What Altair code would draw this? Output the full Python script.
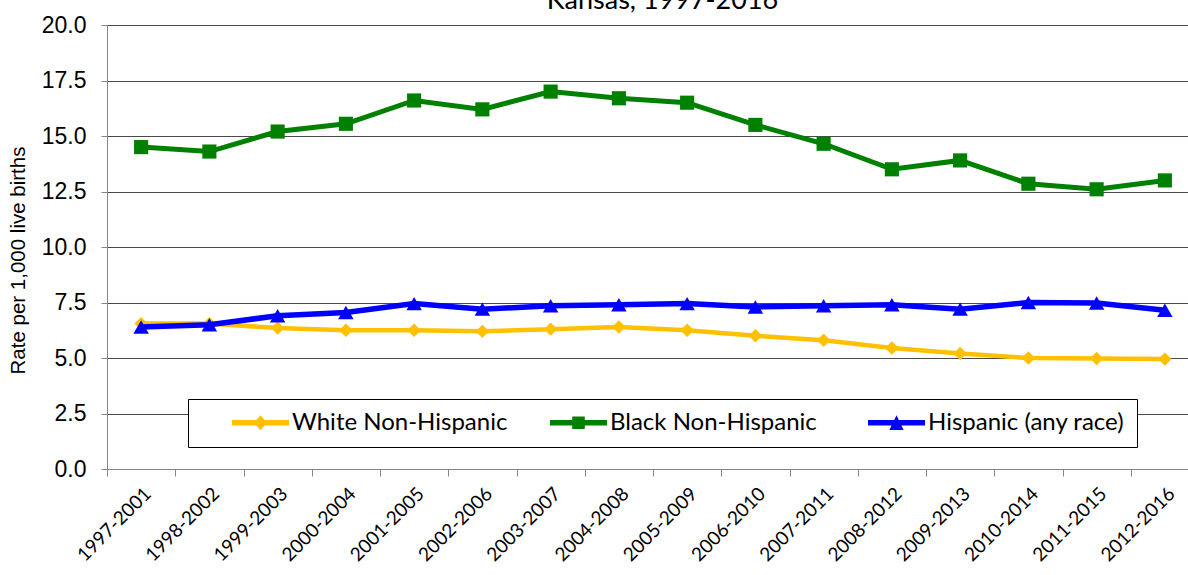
import altair as alt
import pandas as pd

periods = ["1997-2001", "1998-2002", "1999-2003", "2000-2004", "2001-2005", "2002-2006",
           "2003-2007", "2004-2008", "2005-2009", "2006-2010", "2007-2011", "2008-2012",
           "2009-2013", "2010-2014", "2011-2015", "2012-2016"]
white = [6.55, 6.55, 6.35, 6.25, 6.25, 6.2, 6.3, 6.4, 6.25, 6.0, 5.8, 5.45, 5.2, 5.0, 4.98, 4.95]
black = [14.5, 14.3, 15.2, 15.55, 16.6, 16.2, 17.0, 16.7, 16.5, 15.5, 14.65, 13.5, 13.9, 12.85, 12.6, 13.0]
hisp = [6.4, 6.5, 6.9, 7.05, 7.45, 7.2, 7.35, 7.4, 7.45, 7.3, 7.35, 7.4, 7.2, 7.5, 7.48, 7.15]

series_names = ["White Non-Hispanic", "Black Non-Hispanic", "Hispanic (any race)"]
series_vals = [white, black, hisp]
colors = ["#FFC000", "#008000", "#0000FF"]
marker_shapes = ["diamond", "square", "triangle-up"]
marker_sizes = [180, 200, 240]
line_widths = [4.5, 5, 5.5]

rows = []
for name, vals in zip(series_names, series_vals):
    for p, v in zip(periods, vals):
        rows.append({"Period": p, "Rate": v, "Series": name})
df = pd.DataFrame(rows)

bar = "M-1,-0.1H1V0.1H-1Z "
legend_paths = [
    bar + "M0,-0.26L0.23,0L0,0.26L-0.23,0Z",
    bar + "M-0.22,-0.22H0.22V0.22H-0.22Z",
    bar + "M0,-0.26L0.25,0.25L-0.25,0.25Z",
]

x_enc = alt.X("Period:N", sort=periods,
              scale=alt.Scale(domain=periods, range=[0, 1092], paddingInner=0, paddingOuter=0),
              axis=alt.Axis(title=None, labelAngle=-45, labelFont="Lato", labelFontSize=19,
                            labelColor="black", labelPadding=8, tickSize=7, tickBand="extent",
                            tickColor="#868686", domainColor="#868686", grid=False))
y_enc = alt.Y("Rate:Q", scale=alt.Scale(domain=[0, 20], nice=False),
              axis=alt.Axis(title="Rate per 1,000 live births", values=[0, 2.5, 5, 7.5, 10, 12.5, 15, 17.5, 20],
                            format=".1f", labelFont="Liberation Sans", labelFontSize=23, labelColor="black",
                            labelPadding=15, tickSize=6, tickColor="#868686", domainColor="#868686",
                            grid=True, gridColor="#4a4a4a", gridWidth=1,
                            titleFont="Liberation Sans", titleFontSize=20.5, titleFontWeight="normal",
                            titleColor="black", titleX=-89, titleY=235, titleBaseline="middle",
                            titleAlign="center"))
color_scale = alt.Scale(domain=series_names, range=colors)

layers = []
for name, col, shp, sz, lw in zip(series_names, colors, marker_shapes, marker_sizes, line_widths):
    base = alt.Chart(df).transform_filter(alt.datum.Series == name)
    layers.append(base.mark_line(strokeWidth=lw).encode(
        x=x_enc, y=y_enc, color=alt.Color("Series:N", scale=color_scale)))
    layers.append(base.mark_point(shape=shp, size=sz, filled=True, opacity=1).encode(
        x=x_enc, y=y_enc, color=alt.Color("Series:N", scale=color_scale)))

legend_props = dict(orient="none", legendX=81, legendY=374, direction="horizontal",
                    title=" ", titleOrient="left", titleFontSize=1, titlePadding=32,
                    padding=12, strokeColor="#000000", fillColor="white",
                    labelFont="Lato", labelFontSize=24, labelColor="black",
                    labelOffset=3, symbolSize=3249, symbolStrokeWidth=0, symbolType="circle",
                    symbolOpacity=1, columnPadding=42, labelLimit=400, clipHeight=23,
                    gridAlign="all")

legend_layer = alt.Chart(df).transform_filter("false").mark_point(filled=True, opacity=1).encode(
    x=x_enc, y=y_enc,
    color=alt.Color("Series:N", scale=color_scale, legend=alt.Legend(**legend_props)),
    shape=alt.Shape("Series:N", scale=alt.Scale(domain=series_names, range=legend_paths),
                    legend=alt.Legend(**legend_props)),
)
layers.append(legend_layer)

chart = alt.layer(*layers).properties(
    width=1081, height=444,
    title=alt.TitleParams(text="Kansas, 1997-2016", font="Lato", fontSize=27, fontWeight="normal",
                          color="black", anchor="middle", baseline="alphabetic", offset=6, dx=15, dy=28),
    autosize=alt.AutoSizeParams(type="none"),
    padding={"left": 107, "top": 25, "right": 0, "bottom": 106},
).configure_view(stroke=None).configure(background="white")

chart.save("out.html", embed_options={"renderer": "svg", "actions": False})
